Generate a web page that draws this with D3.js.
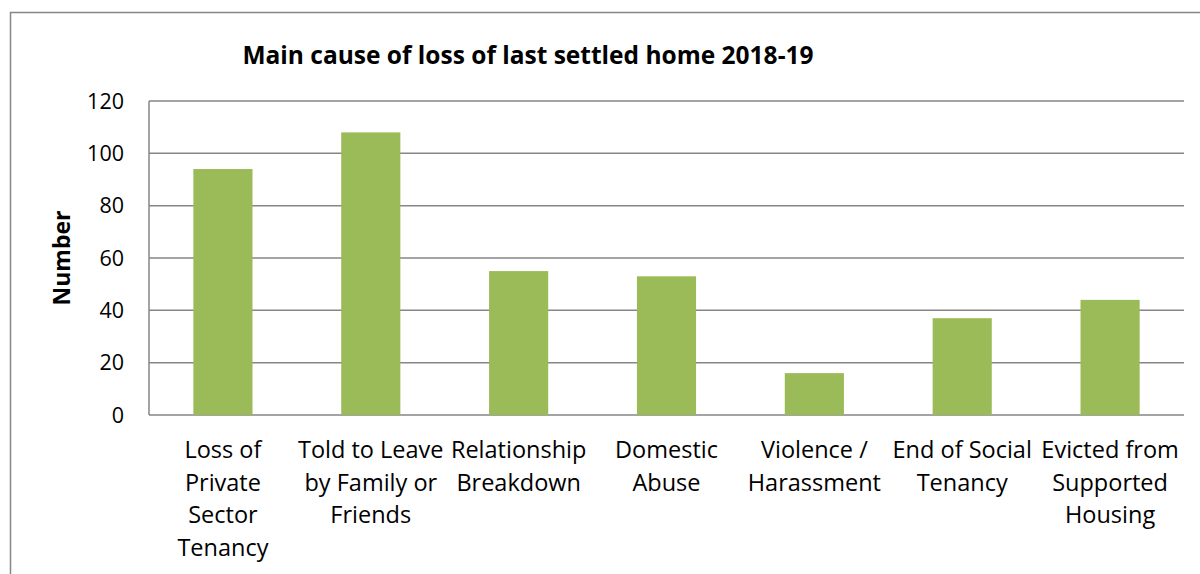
<!DOCTYPE html>
<html>
<head>
<meta charset="utf-8">
<script src="https://cdn.jsdelivr.net/npm/d3@7"></script>
<style>
  body { margin: 0; background: #fff; }
  svg { display: block; font-family: "Open Sans", "Liberation Sans", sans-serif; }
</style>
</head>
<body>
<svg id="chart" width="1200" height="574"></svg>
<script>
// data
const categories = [
  ["Loss of", "Private", "Sector", "Tenancy"],
  ["Told to Leave", "by Family or", "Friends"],
  ["Relationship", "Breakdown"],
  ["Domestic", "Abuse"],
  ["Violence /", "Harassment"],
  ["End of Social", "Tenancy"],
  ["Evicted from", "Supported", "Housing"]
];
const values = [94, 108, 55, 53, 16, 37, 44];
const yTicks = [0, 20, 40, 60, 80, 100, 120];

const svg = d3.select('#chart');
const plot = { left: 149, right: 1184, top: 101, bottom: 415 };

// outer frame
svg.append('rect')
    .attr('x', 10.5).attr('y', 12.5)
    .attr('width', 1200).attr('height', 600)
    .attr('fill', 'none')
    .attr('stroke', '#868686')
    .attr('stroke-width', 1.5);

const x = d3.scaleBand()
    .domain(d3.range(categories.length))
    .range([plot.left, plot.right])
    .paddingInner(0.6)
    .paddingOuter(0.3);

const y = d3.scaleLinear()
    .domain([0, 120])
    .range([plot.bottom, plot.top]);

// gridlines
svg.append('g')
    .selectAll('line')
    .data(yTicks)
    .join('line')
    .attr('x1', plot.left).attr('x2', plot.right)
    .attr('y1', d => y(d)).attr('y2', d => y(d))
    .attr('stroke', '#868686')
    .attr('stroke-width', 1.5);

// y axis line + labels
svg.append('line')
    .attr('x1', plot.left).attr('x2', plot.left)
    .attr('y1', plot.top).attr('y2', plot.bottom)
    .attr('stroke', '#868686')
    .attr('stroke-width', 1.5);

svg.append('g')
    .selectAll('text')
    .data(yTicks)
    .join('text')
    .attr('x', 124)
    .attr('y', d => y(d))
    .attr('dy', '0.35em')
    .attr('text-anchor', 'end')
    .attr('font-size', 21.5)
    .attr('fill', '#000')
    .text(d => d);

// bars
svg.append('g')
    .selectAll('rect')
    .data(values)
    .join('rect')
    .attr('x', (d, i) => x(i))
    .attr('y', d => y(d))
    .attr('width', x.bandwidth())
    .attr('height', d => y(0) - y(d))
    .attr('fill', '#9BBB59');

// category labels
const lab = svg.append('g')
    .selectAll('text')
    .data(categories)
    .join('text')
    .attr('text-anchor', 'middle')
    .attr('font-size', 23.5)
    .attr('fill', '#000');
lab.selectAll('tspan')
    .data((d, i) => d.map(t => ({ t, i })))
    .join('tspan')
    .attr('x', d => x(d.i) + x.bandwidth() / 2)
    .attr('y', (d, j) => 458 + j * 32.5)
    .text(d => d.t);

// title
svg.append('text')
    .attr('x', 528).attr('y', 64)
    .attr('text-anchor', 'middle')
    .attr('font-size', 24.5)
    .attr('font-weight', 'bold')
    .text('Main cause of loss of last settled home 2018-19');

// y axis title
svg.append('text')
    .attr('transform', 'translate(70,258) rotate(-90)')
    .attr('text-anchor', 'middle')
    .attr('font-size', 23)
    .attr('font-weight', 'bold')
    .text('Number');
</script>
</body>
</html>
